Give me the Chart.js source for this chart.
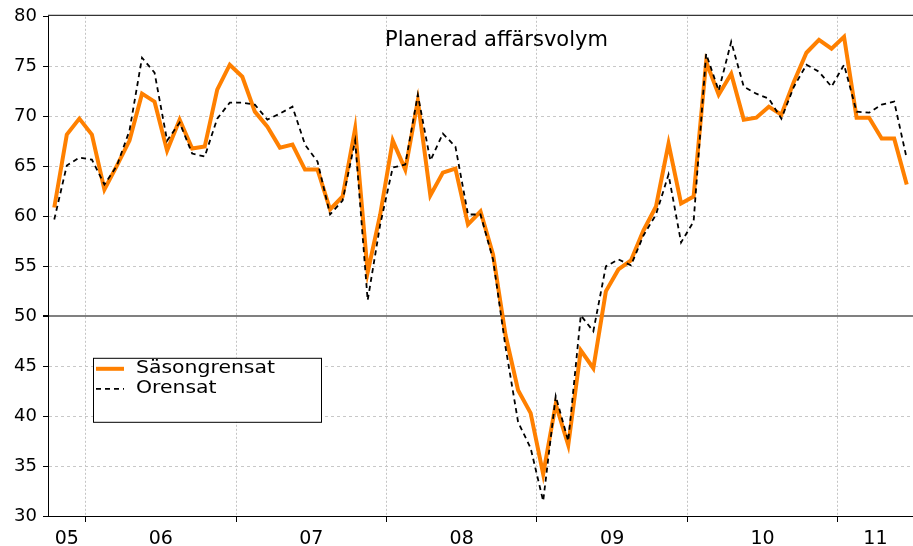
<!DOCTYPE html>
<html>
<head>
<meta charset="utf-8">
<script src="https://cdn.jsdelivr.net/npm/chart.js@4"></script>
<style>
  html, body { margin: 0; padding: 0; background: #fff; }
  #wrap { width: 913px; height: 546px; }
</style>
</head>
<body>
<div id="wrap"><canvas id="chart" width="913" height="546"></canvas></div>
<script>
// Planerad affärsvolym, månadsdata okt 2005 - jun 2011
const chartTitle = "Planerad affärsvolym";
const yearLabels = ["05", "06", "07", "08", "09", "10", "11"];
const firstMonth = 10; // serien börjar i oktober 2005

const saesongrensat = [
  60.9, 68.2, 69.8,
  68.2, 62.7, 65.1, 67.6, 72.3, 71.5, 66.6, 69.7, 66.8, 67.0, 72.7, 75.2,
  74.0, 70.5, 69.0, 66.9, 67.2, 64.7, 64.7, 60.7, 62.0, 68.8, 54.4, 60.2,
  67.6, 64.7, 71.6, 62.1, 64.4, 64.8, 59.2, 60.5, 56.2, 48.1, 42.6, 40.3,
  34.2, 41.2, 37.1, 46.6, 44.8, 52.5, 54.7, 55.6, 58.6, 61.0, 67.3, 61.3,
  62.0, 75.5, 72.2, 74.3, 69.7, 69.9, 71.0, 70.2, 73.5, 76.4, 77.7, 76.8,
  78.0, 69.9, 69.9, 67.8, 67.8, 63.2
];

const orensat = [
  59.7, 65.1, 65.9,
  65.7, 63.2, 65.1, 68.6, 75.9, 74.4, 67.6, 69.4, 66.3, 66.0, 69.8, 71.4,
  71.4, 71.2, 69.7, 70.3, 71.0, 67.2, 65.5, 60.2, 61.6, 67.6, 51.6, 59.2,
  64.9, 65.2, 72.2, 65.6, 68.3, 67.0, 60.2, 60.2, 55.7, 46.9, 39.4, 36.8,
  31.5, 42.0, 37.5, 50.1, 48.5, 55.0, 55.7, 55.1, 58.1, 60.2, 64.2, 57.4,
  59.5, 76.3, 72.6, 77.5, 73.0, 72.3, 71.8, 69.8, 73.0, 75.2, 74.5, 73.0,
  75.2, 70.5, 70.4, 71.2, 71.5, 65.8
];

// year boundaries (between Dec and Jan) and centres of each year span
const n = saesongrensat.length;
const firstJan = 13 - firstMonth;
const bounds = [];
for (let i = firstJan; i < n; i += 12) bounds.push(i - 0.5);
const edges = [-0.5].concat(bounds, [n - 0.5]);
const centers = edges.slice(1).map((e, k) => (edges[k] + e) / 2);

const toPoints = arr => arr.map((v, i) => ({ x: i, y: v }));

const decor = {
  id: "decor",
  afterDraw(chart) {
    const ctx = chart.ctx;
    const a = chart.chartArea;
    ctx.save();
    // top frame line
    ctx.strokeStyle = "#000";
    ctx.lineWidth = 1;
    ctx.beginPath();
    ctx.moveTo(a.left, a.top - 1.5);
    ctx.lineTo(a.right, a.top - 1.5);
    ctx.stroke();

    // title inside the plot
    ctx.fillStyle = "#000";
    ctx.font = "21px 'DejaVu Sans'";
    ctx.textBaseline = "alphabetic";
    ctx.fillText(chartTitle, a.left + 337, a.top + 29);

    // legend box
    const bx = a.left + 45, by = a.top + 341, bw = 228, bh = 64;
    ctx.fillStyle = "#fff";
    ctx.fillRect(bx, by, bw, bh);
    ctx.strokeStyle = "#000";
    ctx.lineWidth = 1;
    ctx.strokeRect(bx + 0.5, by + 0.5, bw, bh);
    chart.data.datasets.forEach((ds, i) => {
      const y = by + 11 + i * 20;
      ctx.strokeStyle = ds.borderColor;
      ctx.lineWidth = ds.borderWidth;
      ctx.setLineDash(ds.borderDash || []);
      ctx.beginPath();
      ctx.moveTo(bx + 3, y);
      ctx.lineTo(bx + 31, y);
      ctx.stroke();
      ctx.setLineDash([]);
      ctx.save();
      ctx.fillStyle = "#000";
      ctx.font = "17px 'DejaVu Sans'";
      ctx.textBaseline = "middle";
      ctx.translate(bx + 43, y);
      ctx.scale(1.2, 1);
      ctx.fillText(ds.label, 0, 0);
      ctx.restore();
    });
    ctx.restore();
  }
};

new Chart(document.getElementById("chart"), {
  type: "line",
  data: {
    datasets: [
      {
        label: "Säsongrensat",
        data: toPoints(saesongrensat),
        borderColor: "#ff8000",
        borderWidth: 4,
        pointRadius: 0,
        tension: 0,
        order: 2
      },
      {
        label: "Orensat",
        data: toPoints(orensat),
        borderColor: "#000",
        borderWidth: 1.8,
        borderDash: [5, 4],
        pointRadius: 0,
        tension: 0,
        order: 1
      }
    ]
  },
  options: {
    responsive: false,
    animation: false,
    devicePixelRatio: 1,
    layout: { padding: { top: 16, right: 0, bottom: 0, left: 0 } },
    plugins: {
      legend: { display: false },
      tooltip: { enabled: false }
    },
    scales: {
      x: {
        type: "linear",
        min: -0.5,
        max: n - 0.5,
        afterBuildTicks: scale => {
          scale.ticks = bounds.concat(centers)
            .sort((p, q) => p - q)
            .map(v => ({ value: v }));
        },
        afterFit: scale => { scale.height = 30; },
        ticks: {
          autoSkip: false,
          maxRotation: 0,
          padding: 6,
          color: "#000",
          font: { family: "DejaVu Sans", size: 19 },
          callback: v => {
            const k = centers.indexOf(v);
            return k >= 0 ? yearLabels[k] : "";
          }
        },
        grid: {
          color: c => bounds.includes(c.tick && c.tick.value) ? "#c4c4c4" : "rgba(0,0,0,0)",
          tickColor: c => bounds.includes(c.tick && c.tick.value) ? "#000" : "rgba(0,0,0,0)",
          tickLength: 6,
          lineWidth: 1
        },
        border: { color: "#000", width: 1, dash: [2, 2] }
      },
      y: {
        min: 30,
        max: 80,
        afterFit: scale => { scale.width = 48; },
        ticks: {
          stepSize: 5,
          padding: 6,
          color: "#000",
          font: { family: "DejaVu Sans", size: 18 }
        },
        grid: {
          color: c => {
            const v = c.tick && c.tick.value;
            if (v === 50) return "#808080";
            if (v === 30 || v === 80) return "rgba(0,0,0,0)";
            return "#c8c8c8";
          },
          lineWidth: c => (c.tick && c.tick.value === 50) ? 2 : 1,
          tickColor: "#000",
          tickLength: 5
        },
        border: {
          color: "#000",
          width: 1,
          dash: c => (c.tick && c.tick.value === 50) ? [] : [3, 3]
        }
      }
    }
  },
  plugins: [decor]
});
</script>
</body>
</html>
